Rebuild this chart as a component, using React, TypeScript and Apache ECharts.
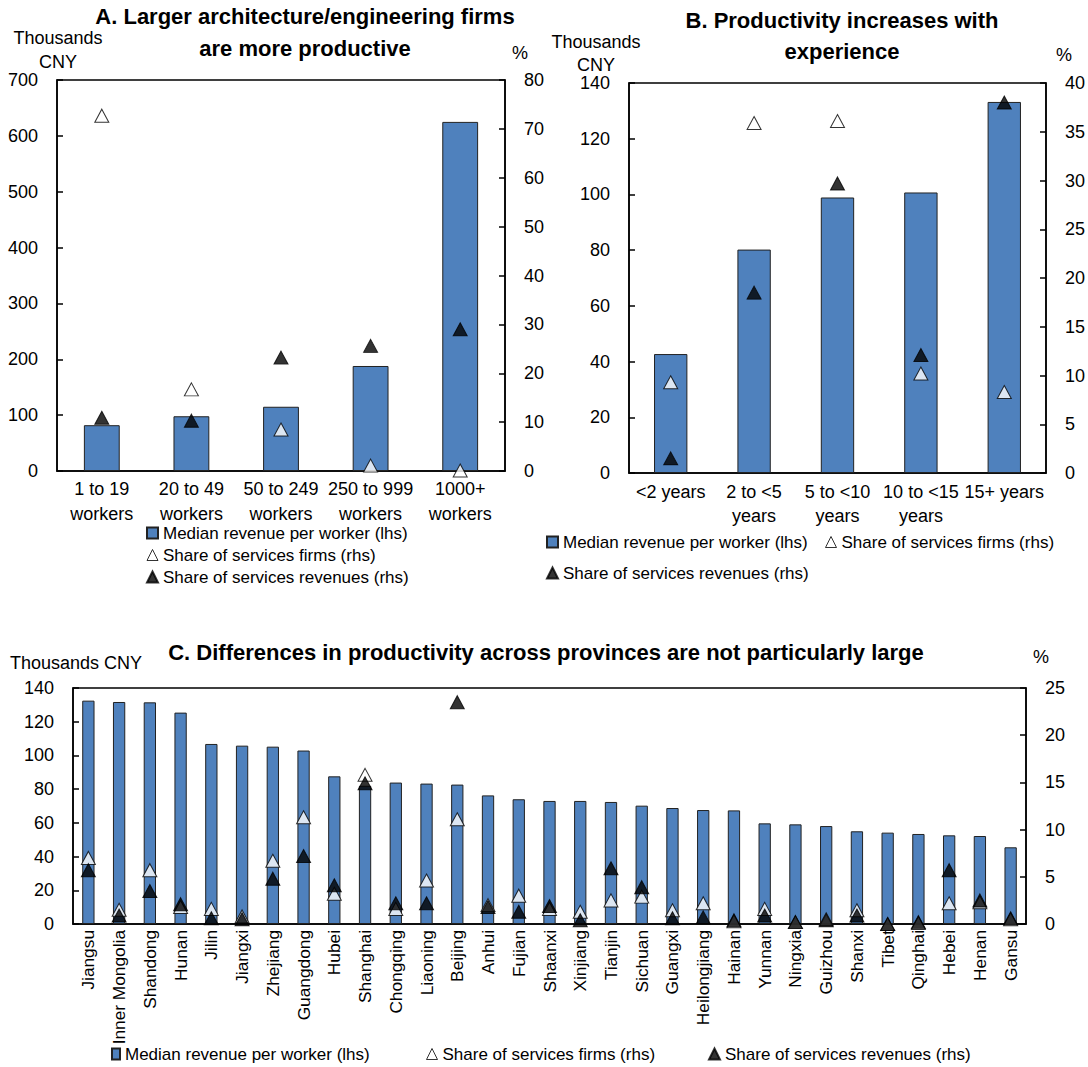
import React, { useEffect, useRef } from "react";
import * as echarts from "echarts";

const NARROW = "'Liberation Sans Narrow', 'Arial Narrow', 'Liberation Sans', Arial, sans-serif";
const ARIAL = "'Liberation Sans', Arial, sans-serif";

const SERIES_BAR = "Median revenue per worker (lhs)";
const SERIES_FIRMS = "Share of services firms (rhs)";
const SERIES_REV = "Share of services revenues (rhs)";

// Panel A
const catsA = ["1 to 19\nworkers", "20 to 49\nworkers", "50 to 249\nworkers", "250 to 999\nworkers", "1000+\nworkers"];
const revenueA = [82, 98, 115, 188, 625];
const firmsA = [72.7, 16.7, 8.5, 1.1, 0.1];
const servRevA = [10.9, 10.3, 23.2, 25.6, 29.0];

// Panel B
const catsB = ["<2 years", "2 to <5\nyears", "5 to <10\nyears", "10 to <15\nyears", "15+ years"];
const revenueB = [42.7, 80.2, 98.9, 100.7, 133.2];
const firmsB = [9.3, 35.9, 36.1, 10.2, 8.3];
const servRevB = [1.5, 18.5, 29.7, 12.1, 38.0];

// Panel C
const provinces = [
  "Jiangsu", "Inner Mongolia", "Shandong", "Hunan", "Jilin", "Jiangxi", "Zhejiang", "Guangdong",
  "Hubei", "Shanghai", "Chongqing", "Liaoning", "Beijing", "Anhui", "Fujian", "Shaanxi",
  "Xinjiang", "Tianjin", "Sichuan", "Guangxi", "Heilongjiang", "Hainan", "Yunnan", "Ningxia",
  "Guizhou", "Shanxi", "Tibet", "Qinghai", "Hebei", "Henan", "Gansu",
];
const revenueC = [
  132.5, 131.7, 131.5, 125.4, 106.8, 105.8, 105.2, 102.9,
  87.6, 82, 83.9, 83.3, 82.7, 76.3, 74.0, 73.0,
  73.0, 72.4, 70.2, 68.8, 67.6, 67.4, 59.7, 59.1,
  58.1, 55.0, 54.2, 53.4, 52.6, 52.2, 45.5,
];
const firmsC = [
  7.0, 1.5, 5.7, 1.8, 1.6, 0.8, 6.7, 11.3,
  3.2, 15.8, 1.6, 4.6, 11.1, 2.0, 3.0, 1.6,
  1.3, 2.5, 2.9, 1.45, 2.2, 0.3, 1.6, 0.2,
  0.5, 1.45, 0.0, 0.1, 2.2, 2.3, 0.5,
];
const servRevC = [
  5.7, 0.9, 3.5, 2.1, 0.6, 0.5, 4.8, 7.2,
  4.1, 14.9, 2.2, 2.2, 23.5, 1.8, 1.3, 1.9,
  0.4, 5.9, 3.9, 0.6, 0.7, 0.4, 0.9, 0.2,
  0.4, 0.9, 0.0, 0.2, 5.7, 2.5, 0.6,
];

const BLUE = "#4f81bd";

function yAxis(grid: number, max: number, interval: number, position: "left" | "right") {
  return {
    type: "value",
    gridIndex: grid,
    position,
    min: 0,
    max,
    interval,
    axisLine: { show: true, lineStyle: { color: "#000", width: 1.5 } },
    axisTick: { show: true, inside: true, length: 6, lineStyle: { color: "#000", width: 1.5 } },
    splitLine: { show: false },
    axisLabel: { color: "#000", fontSize: 18, fontFamily: NARROW, margin: 19 },
  };
}

function xAxis(grid: number, data: string[], extra: any) {
  return {
    type: "category",
    gridIndex: grid,
    data,
    axisLine: { show: true, onZero: false, lineStyle: { color: "#000", width: 1.5 } },
    axisTick: { show: false },
    splitLine: { show: false },
    axisLabel: { color: "#000", interval: 0, ...extra },
  };
}

function seriesSet(grid: number, bar: number[], firms: number[], rev: number[]) {
  const yl = grid * 2;
  const yr = grid * 2 + 1;
  return [
    {
      name: SERIES_BAR,
      type: "bar",
      xAxisIndex: grid,
      yAxisIndex: yl,
      data: bar,
      barWidth: "40%",
      itemStyle: { color: BLUE, borderColor: "#222", borderWidth: 1 },
    },
    {
      name: SERIES_FIRMS,
      type: "scatter",
      xAxisIndex: grid,
      yAxisIndex: yr,
      data: firms,
      symbol: "triangle",
      symbolSize: [14, 13],
      itemStyle: { color: "#fff", borderColor: "#000", borderWidth: 1 },
    },
    {
      name: SERIES_REV,
      type: "scatter",
      xAxisIndex: grid,
      yAxisIndex: yr,
      data: rev,
      symbol: "triangle",
      symbolSize: [14, 13],
      itemStyle: { color: "#000", borderColor: "#000", borderWidth: 1 },
    },
  ];
}

function legend(names: string[], left: number, top: number, orient: "vertical" | "horizontal", iw: number, ih: number, gap: number) {
  return {
    orient,
    left,
    top,
    padding: 0,
    itemGap: gap,
    itemWidth: iw,
    itemHeight: ih,
    selectedMode: false,
    textStyle: { color: "#000", fontSize: 17, fontFamily: NARROW, lineHeight: 20 },
    data: names.map((n) => ({
      name: n,
      icon: n === SERIES_BAR ? "rect" : "triangle",
      itemStyle: n === SERIES_FIRMS ? { color: "#fff", borderColor: "#000", borderWidth: 1 } : undefined,
    })),
  };
}

function txt(text: string, x: number, y: number, size: number, bold: boolean, align: string, lh?: number) {
  return {
    type: "text",
    x,
    y,
    style: {
      text,
      fill: "#000",
      font: `${bold ? "bold " : ""}${size}px ${NARROW}`,
      textAlign: align,
      textVerticalAlign: "middle",
      lineHeight: lh || size * 1.2,
    },
  };
}

export default function App() {
  const ref = useRef<HTMLDivElement>(null);
  useEffect(() => {
    if (!ref.current) return;
    const chart = echarts.init(ref.current, undefined, { renderer: "svg" });
    const option: any = {
      animation: false,
      backgroundColor: "#fff",
      textStyle: { fontFamily: NARROW },
      grid: [
        { left: 57, top: 80, width: 448, height: 391, show: true, borderColor: "#000", borderWidth: 1.5, containLabel: false },
        { left: 629, top: 83, width: 418, height: 390, show: true, borderColor: "#000", borderWidth: 1.5, containLabel: false },
        { left: 73, top: 688, width: 953, height: 236, show: true, borderColor: "#000", borderWidth: 1.5, containLabel: false },
      ],
      xAxis: [
        xAxis(0, catsA, { fontSize: 18, fontFamily: NARROW, lineHeight: 25, margin: 5 }),
        xAxis(1, catsB, { fontSize: 18, fontFamily: NARROW, lineHeight: 24, margin: 7 }),
        xAxis(2, provinces, { fontSize: 17.3, fontFamily: ARIAL, rotate: 90, margin: 6 }),
      ],
      yAxis: [
        yAxis(0, 700, 100, "left"),
        yAxis(0, 80, 10, "right"),
        yAxis(1, 140, 20, "left"),
        yAxis(1, 40, 5, "right"),
        yAxis(2, 140, 20, "left"),
        yAxis(2, 25, 5, "right"),
      ],
      legend: [
        legend([SERIES_BAR, SERIES_FIRMS, SERIES_REV], 146, 523, "vertical", 11, 11, 2),
        legend([SERIES_BAR], 546, 532, "horizontal", 11, 11, 5),
        legend([SERIES_FIRMS], 825, 532, "horizontal", 11, 11, 5),
        legend([SERIES_REV], 546, 563, "horizontal", 11, 11, 5),
        legend([SERIES_BAR], 111, 1044, "horizontal", 8, 11, 5),
        legend([SERIES_FIRMS], 426, 1044, "horizontal", 11, 11, 5),
        legend([SERIES_REV], 708, 1044, "horizontal", 11, 11, 5),
      ],
      graphic: [
        txt("A. Larger architecture/engineering firms\nare more productive", 305, 32.5, 22, true, "center", 31.6),
        txt("B. Productivity increases with\nexperience", 842, 35.5, 22, true, "center", 31),
        txt("C. Differences in productivity across provinces are not particularly large", 546, 652, 22, true, "center"),
        txt("Thousands\nCNY", 58, 50, 18, false, "center", 24),
        txt("%", 520, 53, 18, false, "center"),
        txt("Thousands\nCNY", 596, 53.5, 18, false, "center", 23),
        txt("%", 1064, 55, 18, false, "center"),
        txt("Thousands CNY", 76, 662.7, 18, false, "center"),
        txt("%", 1041, 656.7, 18, false, "center"),
      ],
      series: [
        ...seriesSet(0, revenueA, firmsA, servRevA),
        ...seriesSet(1, revenueB, firmsB, servRevB),
        ...seriesSet(2, revenueC, firmsC, servRevC),
      ],
    };
    chart.setOption(option);
    return () => chart.dispose();
  }, []);
  return (
    <div
      ref={ref}
      style={{ position: "absolute", left: 0, top: 0, width: 1088, height: 1067, background: "#fff" }}
    />
  );
}
